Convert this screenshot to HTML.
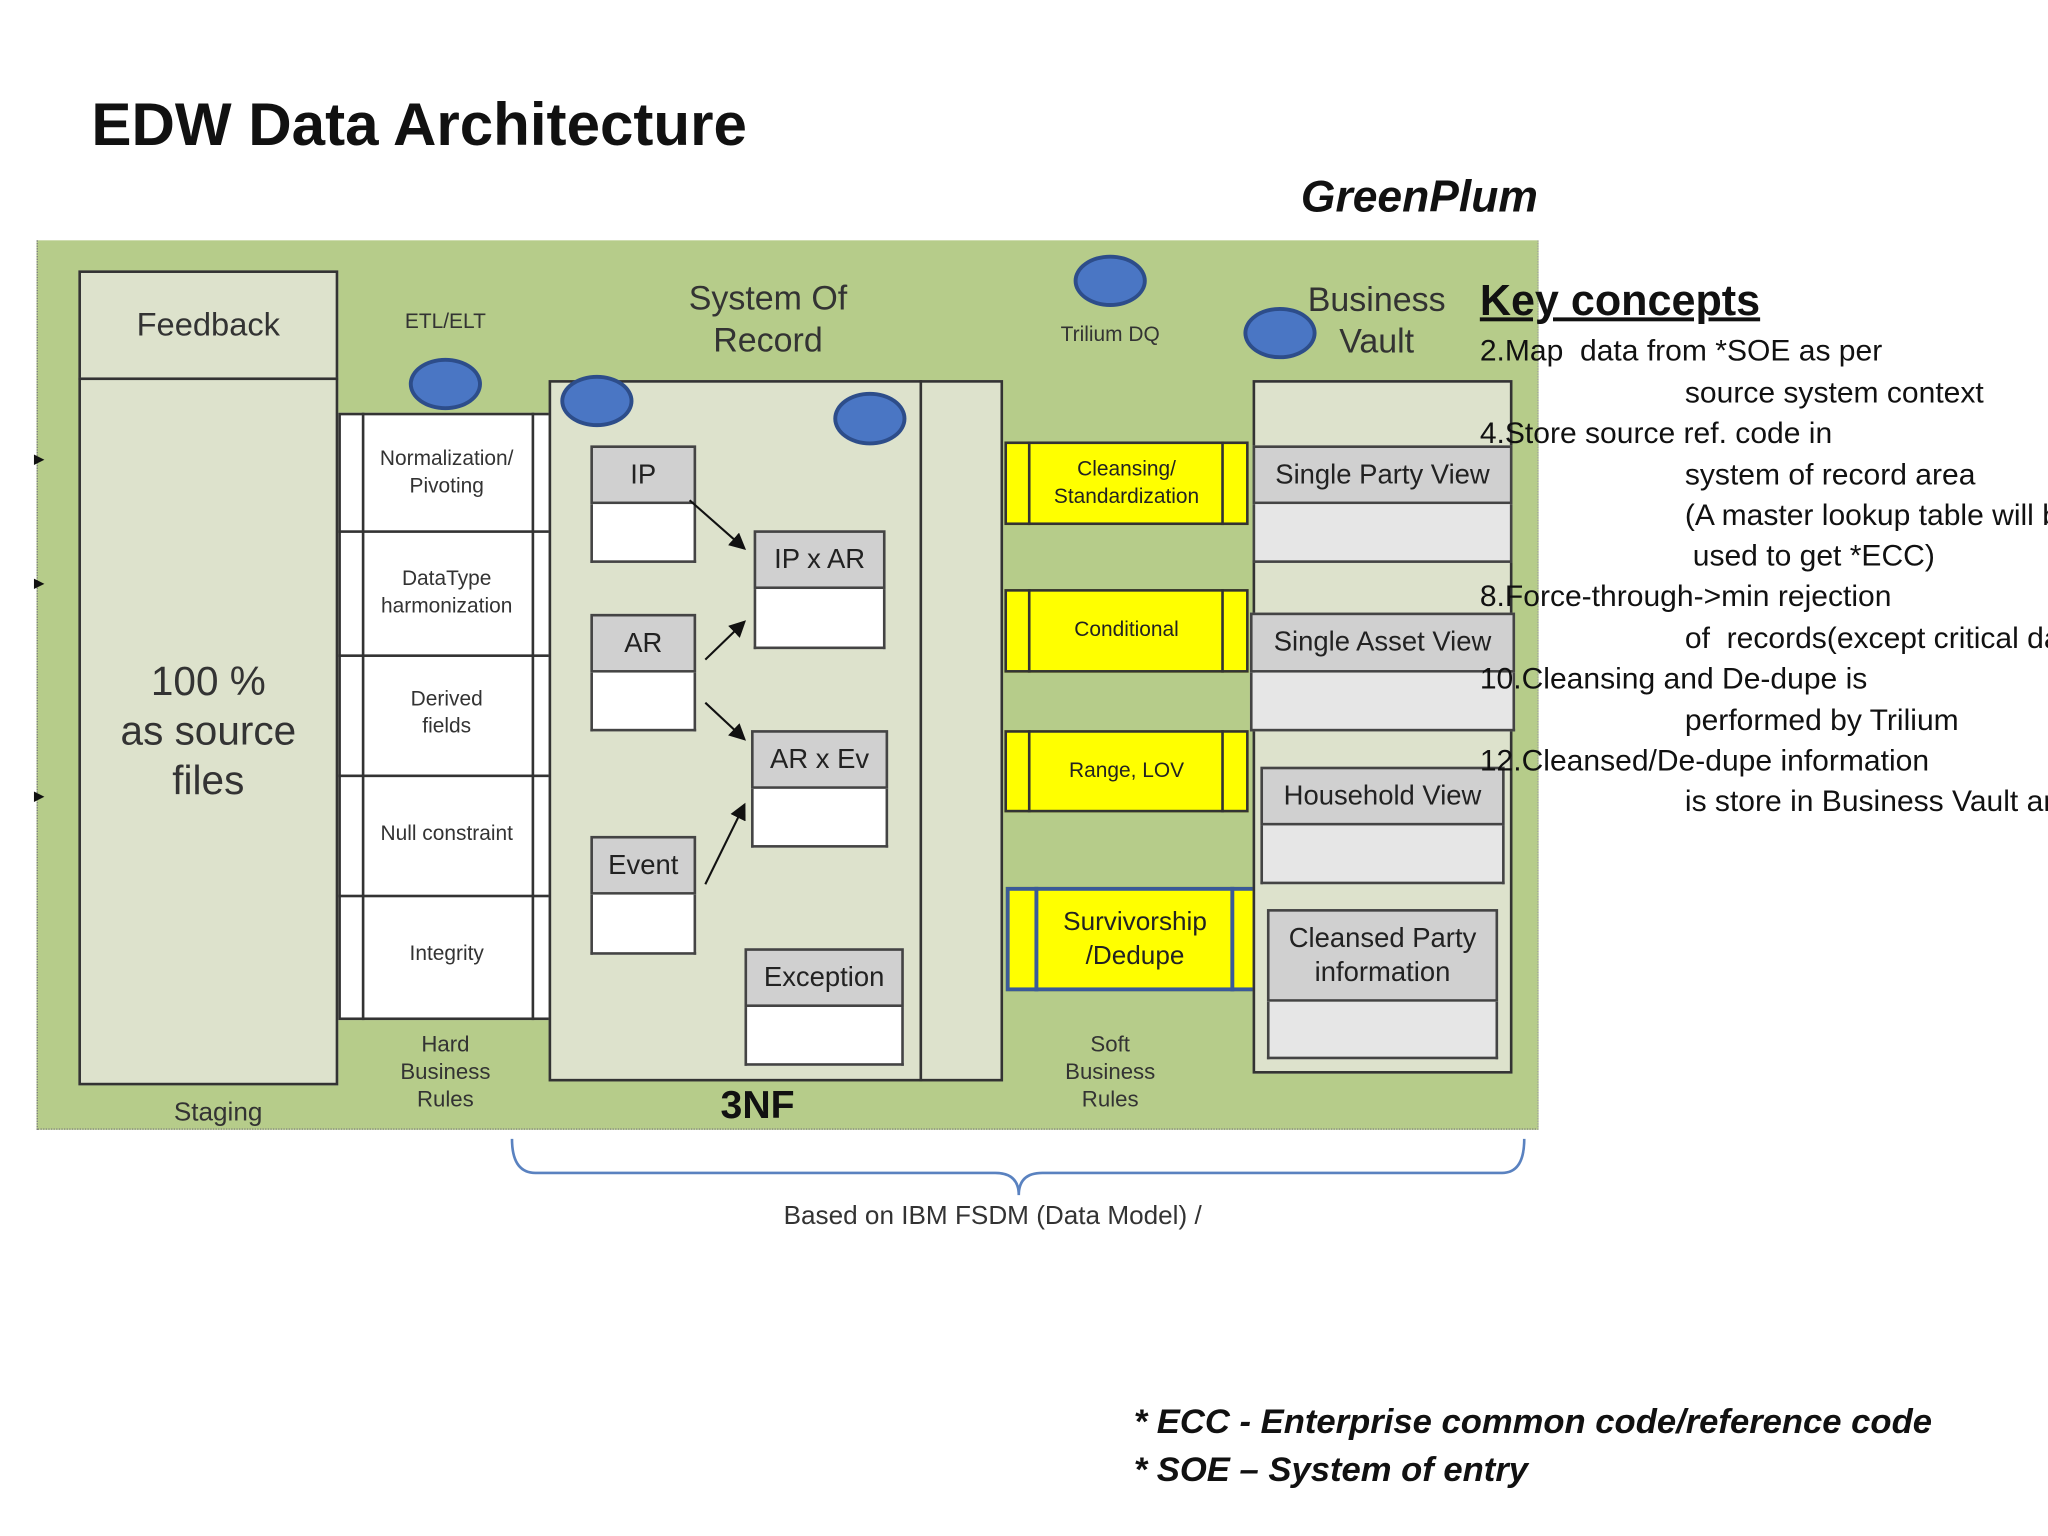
<!DOCTYPE html>
<html><head><meta charset="utf-8"><style>
html,body{margin:0;padding:0;background:#fff;width:2048px;height:1536px;overflow:hidden}
#w{position:absolute;left:0;top:0;width:1568px;height:1176px;transform:scale(1.30612);transform-origin:0 0;font-family:"Liberation Sans",sans-serif}
.a{position:absolute;box-sizing:border-box}
.c{display:flex;align-items:center;justify-content:center;text-align:center}
.b{border:2px solid #333}
.hd{background:#d0d0d0;border:2px solid #444;color:#222;font-size:21px}
.bd{background:#fff;border:2px solid #444;border-top:none}
.y{background:#ffff00;border:2px solid #333;font-size:16px;color:#222}
.k{position:absolute;font-family:"Liberation Sans Narrow","Liberation Sans",sans-serif;font-size:23px;color:#111;white-space:nowrap}
.el{position:absolute;background:#4a76c4;border:3px solid #2d4d8a;border-radius:50%;box-sizing:border-box}
.lab{position:absolute;text-align:center;color:#333;transform:translateX(-50%);white-space:nowrap}
</style></head><body><div id="w">
<div class="a" style="left:70px;top:68px;font-size:46px;font-weight:bold;color:#111">EDW Data Architecture</div>
<div class="a" style="left:996px;top:132px;font-size:34px;font-weight:bold;font-style:italic;color:#111">GreenPlum</div>

<div class="a" style="left:28px;top:184px;width:1150px;height:681px;background:#b6cc8a;border-left:1px dotted #777;border-bottom:1px dotted #777;border-right:1px dotted #999"></div>

<div class="a b c" style="left:60px;top:207px;width:199px;height:84px;background:#dde2cc;font-size:25px;color:#333">Feedback</div>
<div class="a b c" style="left:60px;top:289px;width:199px;height:542px;background:#dde2cc;font-size:31px;color:#333;line-height:38px">100 %<br>as source<br>files</div>
<div class="lab" style="left:167px;top:841px;font-size:20px">Staging</div>

<div class="lab" style="left:341px;top:238px;font-size:16px">ETL/ELT</div>
<div class="a" style="left:259px;top:316px;width:168px;height:465px;background:#fff;border:2px solid #333"></div>
<div class="a" style="left:277px;top:316px;width:2px;height:465px;background:#333"></div>
<div class="a" style="left:407px;top:316px;width:2px;height:465px;background:#333"></div>
<div class="a" style="left:259px;top:406px;width:168px;height:2px;background:#333"></div>
<div class="a" style="left:259px;top:501px;width:168px;height:2px;background:#333"></div>
<div class="a" style="left:259px;top:593px;width:168px;height:2px;background:#333"></div>
<div class="a" style="left:259px;top:685px;width:168px;height:2px;background:#333"></div>
<div class="lab" style="left:342px;top:341px;font-size:16px;line-height:21px">Normalization/<br>Pivoting</div>
<div class="lab" style="left:342px;top:433px;font-size:16px;line-height:21px">DataType<br>harmonization</div>
<div class="lab" style="left:342px;top:525px;font-size:16px;line-height:21px">Derived<br>fields</div>
<div class="lab" style="left:342px;top:630px;font-size:16px">Null constraint</div>
<div class="lab" style="left:342px;top:722px;font-size:16px">Integrity</div>
<div class="lab" style="left:341px;top:789px;font-size:17px;line-height:21px">Hard<br>Business<br>Rules</div>

<div class="lab" style="left:588px;top:212px;font-size:26px;line-height:32px">System Of<br>Record</div>
<div class="a b" style="left:420px;top:291px;width:348px;height:537px;background:#dde2cc"></div>
<div class="a" style="left:704px;top:291px;width:2px;height:537px;background:#333"></div>
<div class="a hd c" style="left:452px;top:341px;width:81px;height:45px">IP</div><div class="a bd" style="left:452px;top:386px;width:81px;height:45px"></div>
<div class="a hd c" style="left:452px;top:470px;width:81px;height:45px">AR</div><div class="a bd" style="left:452px;top:515px;width:81px;height:45px"></div>
<div class="a hd c" style="left:452px;top:640px;width:81px;height:45px">Event</div><div class="a bd" style="left:452px;top:685px;width:81px;height:46px"></div>
<div class="a hd c" style="left:577px;top:406px;width:101px;height:45px">IP x AR</div><div class="a bd" style="left:577px;top:451px;width:101px;height:46px"></div>
<div class="a hd c" style="left:575px;top:559px;width:105px;height:45px">AR x Ev</div><div class="a bd" style="left:575px;top:604px;width:105px;height:45px"></div>
<div class="a hd c" style="left:570px;top:726px;width:122px;height:45px">Exception</div><div class="a bd" style="left:570px;top:771px;width:122px;height:45px"></div>
<div class="lab" style="left:580px;top:830px;font-size:30px;font-weight:bold;color:#111">3NF</div>

<div class="lab" style="left:850px;top:248px;font-size:16px">Trilium DQ</div>
<div class="a y c" style="left:769px;top:338px;width:187px;height:64px;line-height:21px">Cleansing/<br>Standardization</div>
<div class="a y c" style="left:769px;top:451px;width:187px;height:64px">Conditional</div>
<div class="a y c" style="left:769px;top:559px;width:187px;height:63px">Range, LOV</div>
<div class="a y c" style="left:770px;top:679px;width:198px;height:80px;border:3px solid #3a5a98;font-size:20px;line-height:26px">Survivorship<br>/Dedupe</div>
<div class="a" style="left:787px;top:338px;width:2px;height:64px;background:#333"></div><div class="a" style="left:935px;top:338px;width:2px;height:64px;background:#333"></div>
<div class="a" style="left:787px;top:451px;width:2px;height:64px;background:#333"></div><div class="a" style="left:935px;top:451px;width:2px;height:64px;background:#333"></div>
<div class="a" style="left:787px;top:559px;width:2px;height:63px;background:#333"></div><div class="a" style="left:935px;top:559px;width:2px;height:63px;background:#333"></div>
<div class="a" style="left:792px;top:679px;width:3px;height:80px;background:#3a5a98"></div><div class="a" style="left:942px;top:679px;width:3px;height:80px;background:#3a5a98"></div>
<div class="lab" style="left:850px;top:789px;font-size:17px;line-height:21px">Soft<br>Business<br>Rules</div>

<div class="lab" style="left:1054px;top:213px;font-size:26px;line-height:32px">Business<br>Vault</div>
<div class="a b" style="left:959px;top:291px;width:199px;height:531px;background:#dde2cc"></div>
<div class="a hd c" style="left:959px;top:341px;width:199px;height:45px">Single Party View</div><div class="a bd" style="left:959px;top:386px;width:199px;height:45px;background:#e6e6e6"></div>
<div class="a hd c" style="left:957px;top:469px;width:203px;height:46px">Single Asset View</div><div class="a bd" style="left:957px;top:515px;width:203px;height:45px;background:#e6e6e6"></div>
<div class="a hd c" style="left:965px;top:587px;width:187px;height:45px">Household View</div><div class="a bd" style="left:965px;top:632px;width:187px;height:45px;background:#e6e6e6"></div>
<div class="a hd c" style="left:970px;top:696px;width:177px;height:71px;line-height:26px">Cleansed Party<br>information</div><div class="a bd" style="left:970px;top:767px;width:177px;height:44px;background:#e6e6e6"></div>

<div class="el" style="left:313px;top:274px;width:56px;height:40px"></div>
<div class="el" style="left:429px;top:287px;width:56px;height:40px"></div>
<div class="el" style="left:638px;top:300px;width:56px;height:41px"></div>
<div class="el" style="left:822px;top:195px;width:56px;height:40px"></div>
<div class="el" style="left:952px;top:235px;width:56px;height:40px"></div>

<svg class="a" style="left:0;top:0" width="1568" height="1176">
<defs><marker id="m" markerWidth="8" markerHeight="8" refX="7" refY="4" orient="auto"><path d="M0,0L8,4L0,8z" fill="#111"/></marker></defs>
<g stroke="#111" stroke-width="1.6" marker-end="url(#m)">
<line x1="528" y1="383" x2="570" y2="420"/>
<line x1="540" y1="505" x2="570" y2="476"/>
<line x1="540" y1="538" x2="570" y2="566"/>
<line x1="540" y1="677" x2="570" y2="616"/>
</g>
<path d="M26,348l8,4l-8,4z M26,443l8,4l-8,4z M26,606l8,4l-8,4z" fill="#111"/>
<path d="M392,872 Q392,898 410,898 L762,898 Q780,898 780,915 Q780,898 798,898 L1150,898 Q1167,898 1167,872" fill="none" stroke="#5a82c0" stroke-width="2"/>
</svg>
<div class="lab" style="left:760px;top:920px;font-size:20px">Based on IBM FSDM (Data Model) /</div>

<div class="a" style="left:1133px;top:211px;font-size:33px;font-weight:bold;text-decoration:underline;color:#111">Key concepts</div>
<div class="k" style="left:1133px;top:255px">2.Map&nbsp; data from *SOE as per</div>
<div class="k" style="left:1290px;top:287px">source system context</div>
<div class="k" style="left:1133px;top:318px">4.Store source ref. code in</div>
<div class="k" style="left:1290px;top:350px">system of record area</div>
<div class="k" style="left:1290px;top:381px">(A master lookup table will be</div>
<div class="k" style="left:1296px;top:412px">used to get *ECC)</div>
<div class="k" style="left:1133px;top:443px">8.Force-through-&gt;min rejection</div>
<div class="k" style="left:1290px;top:475px">of&nbsp; records(except critical data)</div>
<div class="k" style="left:1133px;top:506px">10.Cleansing and De-dupe is</div>
<div class="k" style="left:1290px;top:538px">performed by Trilium</div>
<div class="k" style="left:1133px;top:569px">12.Cleansed/De-dupe information</div>
<div class="k" style="left:1290px;top:600px">is store in Business Vault area</div>

<div class="a" style="left:868px;top:1070px;font-size:26.5px;font-weight:bold;font-style:italic;color:#111;line-height:37px;white-space:nowrap">* ECC - Enterprise common code/reference code<br>* SOE – System of entry</div>
</div></body></html>
